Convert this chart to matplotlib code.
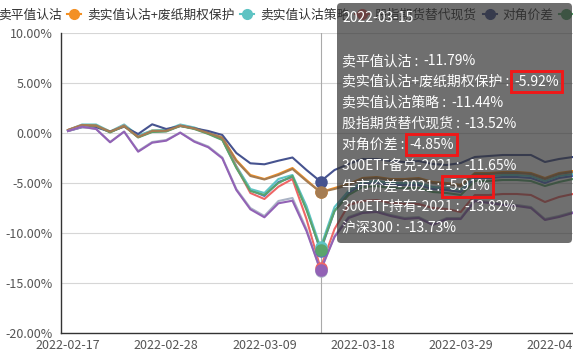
import matplotlib
matplotlib.use('Agg')
import matplotlib.pyplot as plt
from matplotlib.lines import Line2D
from matplotlib.patches import FancyBboxPatch
from matplotlib.text import Annotation

plt.rcParams['font.family'] = ['Noto Sans CJK SC', 'DejaVu Sans']

W, H = 573, 355

dates = ['2022-02-17', '2022-02-18', '2022-02-21', '2022-02-22', '2022-02-23', '2022-02-24',
         '2022-02-25', '2022-02-28', '2022-03-01', '2022-03-02', '2022-03-03', '2022-03-04',
         '2022-03-07', '2022-03-08', '2022-03-09', '2022-03-10', '2022-03-11', '2022-03-14',
         '2022-03-15', '2022-03-16', '2022-03-17', '2022-03-18', '2022-03-21', '2022-03-22',
         '2022-03-23', '2022-03-24', '2022-03-25', '2022-03-28', '2022-03-29', '2022-03-30',
         '2022-03-31', '2022-04-01', '2022-04-06', '2022-04-07', '2022-04-08', '2022-04-11',
         '2022-04-12']

# cumulative return, %
sell_atm_put = [0.25, 0.75, 0.75, 0.1, 0.75, -0.4, 0.15, 0.2, 0.75, 0.45, 0.0, -0.6, -3.4, -5.7,
                -6.3, -4.9, -4.4, -7.5, -11.79, -7.8, -6.0, -5.1, -5.0, -5.2, -5.2, -5.2, -5.6,
                -5.7, -5.9, -4.5, -4.5, -4.4, -4.4, -4.5, -5.0, -4.5, -4.3]
sell_itm_put_prot = [0.3, 0.8, 0.75, 0.15, 0.7, -0.35, 0.25, 0.25, 0.75, 0.5, 0.05, -0.45, -2.7,
                     -4.2, -4.6, -4.1, -3.5, -4.7, -5.92, -5.5, -5.1, -4.5, -4.4, -4.6, -4.6, -4.5,
                     -4.9, -5.0, -5.2, -4.0, -4.0, -3.9, -3.9, -4.0, -4.5, -4.0, -3.8]
sell_itm_put = [0.3, 0.85, 0.85, 0.15, 0.85, -0.25, 0.25, 0.3, 0.85, 0.55, 0.05, -0.55, -3.3, -5.6,
                -6.0, -4.6, -4.2, -7.3, -11.44, -7.4, -5.8, -4.9, -4.8, -5.0, -5.0, -5.0, -5.4,
                -5.5, -5.7, -4.3, -4.3, -4.2, -4.2, -4.3, -4.8, -4.3, -4.1]
futures_sub = [0.3, 0.8, 0.75, 0.1, 0.75, -0.4, 0.15, 0.2, 0.75, 0.45, -0.05, -0.65, -3.4, -6.0,
               -6.6, -5.37, -4.6, -8.6, -13.52, -9.6, -7.2, -6.8, -6.7, -7.0, -7.1, -7.1, -7.5,
               -7.6, -7.9, -6.2, -6.2, -6.1, -6.1, -6.2, -6.9, -6.4, -6.1]
diagonal = [0.2, 0.57, 0.57, 0.13, 0.63, -0.1, 0.87, 0.4, 0.7, 0.47, 0.2, -0.2, -2.0, -3.03,
            -3.13, -2.77, -2.45, -3.7, -4.85, -3.7, -3.1, -2.6, -2.6, -2.8, -2.9, -2.8, -3.1,
            -3.2, -3.0, -2.4, -2.3, -2.2, -2.2, -2.2, -2.9, -2.6, -2.4]
etf_covered = [0.25, 0.75, 0.75, 0.05, 0.7, -0.45, 0.1, 0.15, 0.7, 0.4, -0.1, -0.7, -3.5, -5.8,
               -6.2, -5.0, -4.3, -7.7, -11.65, -7.8, -6.2, -5.4, -5.3, -5.5, -5.5, -5.5, -5.9,
               -6.0, -6.2, -4.8, -4.8, -4.7, -4.7, -4.8, -5.3, -4.9, -4.6]
bull_spread = [0.3, 0.78, 0.72, 0.12, 0.68, -0.4, 0.2, 0.22, 0.72, 0.45, 0.0, -0.5, -2.8, -4.3,
               -4.65, -4.2, -3.6, -4.8, -5.91, -5.6, -5.2, -4.6, -4.5, -4.7, -4.7, -4.6, -5.0,
               -5.1, -5.3, -4.1, -4.1, -4.0, -4.0, -4.1, -4.6, -4.1, -3.9]
etf_hold = [0.2, 0.6, 0.4, -0.9, 0.15, -1.8, -0.9, -0.7, 0.05, -0.8, -1.35, -2.45, -5.6, -7.5,
            -8.3, -6.8, -6.5, -9.6, -13.82, -10.3, -8.4, -7.9, -7.8, -8.2, -8.5, -8.4, -9.1,
            -8.5, -8.5, -6.7, -6.9, -7.1, -7.2, -7.4, -8.6, -8.3, -7.9]
csi300 = [0.2, 0.63, 0.4, -0.93, 0.13, -1.87, -0.97, -0.77, 0.03, -0.87, -1.43, -2.53, -5.7,
          -7.63, -8.43, -7.03, -6.77, -9.8, -13.73, -10.4, -8.5, -8.0, -7.9, -8.3, -8.6, -8.5,
          -9.2, -8.6, -8.6, -6.8, -7.0, -7.2, -7.3, -7.5, -8.7, -8.4, -8.0]

names = ['卖平值认沽', '卖实值认沽+废纸期权保护', '卖实值认沽策略', '股指期货替代现货', '对角价差',
         '300ETF备兑-2021', '牛市价差-2021', '300ETF持有-2021', '沪深300']
series = [sell_atm_put, sell_itm_put_prot, sell_itm_put, futures_sub, diagonal,
          etf_covered, bull_spread, etf_hold, csi300]
colors = ['#5470c6', '#f39024', '#5ec3c3', '#ee6666', '#46538f',
          '#5aa46c', '#a57c52', '#aab3c5', '#9262b5']
highlighted = ['卖实值认沽+废纸期权保护', '对角价差', '牛市价差-2021']
hover = dates.index('2022-03-15')


def fx(px):
    return px / W


def fy(py):
    return 1 - py / H


fig = plt.figure(figsize=(W / 100, H / 100), dpi=100)
ax = fig.add_axes([fx(61), fy(333), 1 - fx(61), fy(33) - fy(333)])

x = list(range(len(dates)))
ax.axvline(hover, color='#aaaaaa', lw=0.8, zorder=1)
for name, vals, c in zip(names, series, colors):
    ax.plot(x, vals, color=c, lw=1.5, zorder=2, solid_joinstyle='round')
for vals, c in zip(series, colors):
    ax.plot(hover, vals[hover], 'o', color=c, ms=8, zorder=3)

ax.set_xlim(-0.5, 36.0)
ax.set_ylim(-20, 10)
yt = list(range(-20, 11, 5))
ax.set_yticks(yt)
ax.set_yticklabels([f'{v:.2f}%' for v in yt])
xt = list(range(0, len(dates), 7))
ax.set_xticks(xt)
ax.set_xticklabels([dates[i] for i in xt])
ax.tick_params(length=0, labelsize=9, colors='#555555')
ax.tick_params(axis='y', pad=6)
ax.tick_params(axis='x', pad=4)
ax.grid(axis='y', color='#d6d6d6', lw=0.8)
ax.set_axisbelow(True)
for s in ['top', 'right']:
    ax.spines[s].set_visible(False)
for s in ['left', 'bottom']:
    ax.spines[s].set_color('#333333')
    ax.spines[s].set_linewidth(1.0)

handles = [Line2D([], [], color=c, lw=1.5, marker='o', ms=7) for c in colors]
fig.legend(handles, names, loc='center left', bbox_to_anchor=(fx(-22), fy(15)), ncol=len(names),
           frameon=False, fontsize=9.2, handlelength=1.1, handletextpad=0.45, columnspacing=0.45,
           borderpad=0, borderaxespad=0, labelcolor='#333333')

# tooltip at the hovered date
tip = FancyBboxPatch((337 / 100, (H - 243) / 100), (572 - 337) / 100, 240 / 100,
                     boxstyle='round,pad=0,rounding_size=0.04', transform=fig.dpi_scale_trans,
                     fc=(50 / 255, 50 / 255, 50 / 255, 0.7), ec='none', zorder=20)
fig.add_artist(tip)
fig.text(fx(342), fy(18), dates[hover], color='white', fontsize=10, va='center', zorder=21)
for k, (name, vals) in enumerate(zip(names, series)):
    lab = fig.text(fx(342), fy(61 + k * 20.9), f'{name} :', color='white', fontsize=10,
                   va='center', zorder=21)
    box = None
    if name in highlighted:
        box = dict(boxstyle='square,pad=0.25', fc='none', ec='#f01818', lw=2.1)
    ann = Annotation(f'{vals[hover]:.2f}%', xy=(1, 0.5), xycoords=lab, xytext=(3.5, 0),
                     textcoords='offset points', color='white', fontsize=10, va='center',
                     ha='left', bbox=box, zorder=21, annotation_clip=False)
    fig.add_artist(ann)

fig.savefig('out.png', dpi=100)
